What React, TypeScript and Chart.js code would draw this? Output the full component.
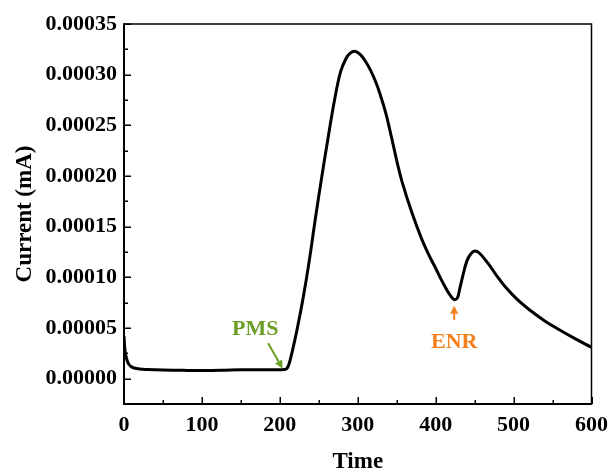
import React, { useEffect, useRef } from "react";
import { Chart, registerables } from "chart.js";

Chart.register(...registerables);

// ---- data ----
const times: number[] = [
  0, 1, 2, 4, 6, 9, 13, 20, 30, 50, 75, 100, 125, 150, 175, 200, 205, 209, 212, 216,
  222, 230, 237.5, 246, 254, 262, 270, 278, 285, 290, 296, 303, 310, 316, 323, 329, 336, 341, 346,
  351, 357, 369, 382, 392, 400, 407, 414, 419, 424, 428, 431, 435, 440, 445, 450, 456, 467,
  478, 489, 505, 522, 540, 557, 580, 600,
];
const currents: number[] = [
  4.2e-5, 3.0e-5, 2.4e-5, 1.8e-5, 1.45e-5, 1.2e-5, 1.05e-5, 9.5e-6, 9.0e-6, 8.5e-6, 8.2e-6,
  8.0e-6, 8.2e-6, 8.8e-6, 8.8e-6, 8.8e-6, 9.0e-6, 1.0e-5, 1.5e-5, 2.7e-5, 4.8e-5, 8.0e-5,
  1.15e-4, 1.6e-4, 2.0e-4, 2.38e-4, 2.74e-4, 3.03e-4, 3.16e-4, 3.21e-4, 3.23e-4, 3.2e-4,
  3.13e-4, 3.05e-4, 2.93e-4, 2.8e-4, 2.62e-4, 2.46e-4, 2.29e-4,
  2.12e-4, 1.94e-4, 1.65e-4, 1.38e-4, 1.21e-4, 1.09e-4, 9.8e-5,
  8.8e-5, 8.2e-5, 7.8e-5, 8.0e-5, 8.9e-5, 1.02e-4, 1.16e-4, 1.23e-4, 1.26e-4, 1.24e-4,
  1.14e-4, 1.02e-4, 9.1e-5, 7.8e-5, 6.7e-5, 5.7e-5, 4.9e-5, 3.9e-5, 3.1e-5,
];

const xMajorTicks: number[] = [0, 100, 200, 300, 400, 500, 600];
const xMinorTicks: number[] = [50, 150, 250, 350, 450, 550];
const yMajorTicks: number[] = [0, 0.00005, 0.0001, 0.00015, 0.0002, 0.00025, 0.0003, 0.00035];
const yMinorTicks: number[] = [0.000025, 0.000075, 0.000125, 0.000175, 0.000225, 0.000275, 0.000325];

// annotations (data coordinates)
const pmsLabel = { text: "PMS", x: 168.5, y: 4.9e-5, color: "#6b9e24" };
const pmsArrow = { x1: 185, y1: 3.5e-5, x2: 203.5, y2: 1.0e-5 };
const enrLabel = { text: "ENR", x: 423.8, y: 3.55e-5, color: "#f3801e" };
const enrArrow = { x1: 423.8, y1: 5.8e-5, x2: 423.8, y2: 7.2e-5 };

const SERIF = '"Liberation Serif", "Times New Roman", serif';

function drawArrow(ctx: CanvasRenderingContext2D, x1: number, y1: number, x2: number, y2: number, color: string) {
  const ang = Math.atan2(y2 - y1, x2 - x1);
  const head = 8;
  const hw = 4;
  const bx = x2 - head * Math.cos(ang);
  const by = y2 - head * Math.sin(ang);
  ctx.save();
  ctx.strokeStyle = color;
  ctx.fillStyle = color;
  ctx.lineWidth = 2;
  ctx.beginPath();
  ctx.moveTo(x1, y1);
  ctx.lineTo(bx, by);
  ctx.stroke();
  ctx.beginPath();
  ctx.moveTo(x2, y2);
  ctx.lineTo(bx + hw * Math.sin(ang), by - hw * Math.cos(ang));
  ctx.lineTo(bx - hw * Math.sin(ang), by + hw * Math.cos(ang));
  ctx.closePath();
  ctx.fill();
  ctx.restore();
}

const framePlugin = {
  id: "frameTicks",
  afterDatasetsDraw(chart: any) {
    const { ctx, chartArea, scales } = chart;
    const xs = scales.x;
    const ys = scales.y;
    const { left, right, top, bottom } = chartArea;
    ctx.save();
    ctx.strokeStyle = "#000";
    ctx.lineWidth = 1.5;
    ctx.beginPath();
    ctx.moveTo(left, top);
    ctx.lineTo(right, top);
    ctx.lineTo(right, bottom);
    ctx.stroke();
    ctx.lineWidth = 2;
    ctx.beginPath();
    ctx.moveTo(left, top - 0.75);
    ctx.lineTo(left, bottom);
    ctx.lineTo(right + 0.75, bottom);
    ctx.stroke();
    ctx.lineWidth = 1.5;
    ctx.beginPath();
    for (const v of xMajorTicks) {
      const px = Math.round(xs.getPixelForValue(v)) + 0.25;
      ctx.moveTo(px, bottom);
      ctx.lineTo(px, bottom - 7);
    }
    for (const v of xMinorTicks) {
      const px = Math.round(xs.getPixelForValue(v)) + 0.25;
      ctx.moveTo(px, bottom);
      ctx.lineTo(px, bottom - 4);
    }
    for (const v of yMajorTicks) {
      const py = Math.round(ys.getPixelForValue(v)) + 0.25;
      ctx.moveTo(left, py);
      ctx.lineTo(left + 7, py);
    }
    for (const v of yMinorTicks) {
      const py = Math.round(ys.getPixelForValue(v)) + 0.25;
      ctx.moveTo(left, py);
      ctx.lineTo(left + 4, py);
    }
    ctx.stroke();

    ctx.font = `bold 22px ${SERIF}`;
    ctx.textAlign = "center";
    ctx.textBaseline = "middle";
    ctx.fillStyle = pmsLabel.color;
    ctx.fillText(pmsLabel.text, xs.getPixelForValue(pmsLabel.x), ys.getPixelForValue(pmsLabel.y));
    ctx.fillStyle = enrLabel.color;
    ctx.fillText(enrLabel.text, xs.getPixelForValue(enrLabel.x), ys.getPixelForValue(enrLabel.y));
    ctx.restore();
    drawArrow(ctx, xs.getPixelForValue(pmsArrow.x1), ys.getPixelForValue(pmsArrow.y1),
      xs.getPixelForValue(pmsArrow.x2), ys.getPixelForValue(pmsArrow.y2), pmsLabel.color);
    drawArrow(ctx, xs.getPixelForValue(enrArrow.x1), ys.getPixelForValue(enrArrow.y1),
      xs.getPixelForValue(enrArrow.x2), ys.getPixelForValue(enrArrow.y2), enrLabel.color);
  },
};

export default function App() {
  const canvasRef = useRef<HTMLCanvasElement | null>(null);

  useEffect(() => {
    if (!canvasRef.current) return;
    const tickFont = { family: SERIF, weight: "bold" as const, size: 22 };
    const titleFont = { family: SERIF, weight: "bold" as const, size: 23, lineHeight: 1 };
    const chart = new Chart(canvasRef.current, {
      type: "line",
      data: {
        datasets: [
          {
            data: times.map((t, i) => ({ x: t, y: currents[i] })),
            borderColor: "#000",
            borderWidth: 3,
            pointRadius: 0,
            tension: 0.4,
            fill: false,
          },
        ],
      },
      options: {
        animation: false,
        responsive: false,
        layout: { padding: { top: 24, right: 22, left: 0, bottom: 0 } },
        plugins: { legend: { display: false }, tooltip: { enabled: false } },
        scales: {
          x: {
            type: "linear",
            min: 0,
            max: 600,
            border: { display: false },
            grid: { display: false, drawTicks: false },
            afterBuildTicks: (s: any) => {
              s.ticks = xMajorTicks.map((v) => ({ value: v }));
            },
            ticks: { font: tickFont, color: "#000", padding: 8, maxRotation: 0, autoSkip: false },
            title: { display: true, text: "Time", font: titleFont, color: "#000", padding: { top: 0, bottom: 0 } },
            afterFit: (s: any) => {
              s.height = 70;
            },
          },
          y: {
            type: "linear",
            min: -0.000025,
            max: 0.00035,
            border: { display: false },
            grid: { display: false, drawTicks: false },
            afterBuildTicks: (s: any) => {
              s.ticks = yMajorTicks.map((v) => ({ value: v }));
            },
            ticks: {
              font: tickFont,
              color: "#000",
              padding: 7,
              autoSkip: false,
              callback: (v: any) => Number(v).toFixed(5),
            },
            title: { display: true, text: "Current (mA)", font: titleFont, color: "#000", padding: { top: 14, bottom: 0 } },
            afterFit: (s: any) => {
              s.width = 124;
            },
          },
        },
      },
      plugins: [framePlugin],
    });
    return () => chart.destroy();
  }, []);

  return (
    <div style={{ position: "fixed", left: 0, top: 0, width: 616, height: 474, background: "#fff" }}>
      <canvas ref={canvasRef} width={616} height={474} />
    </div>
  );
}
